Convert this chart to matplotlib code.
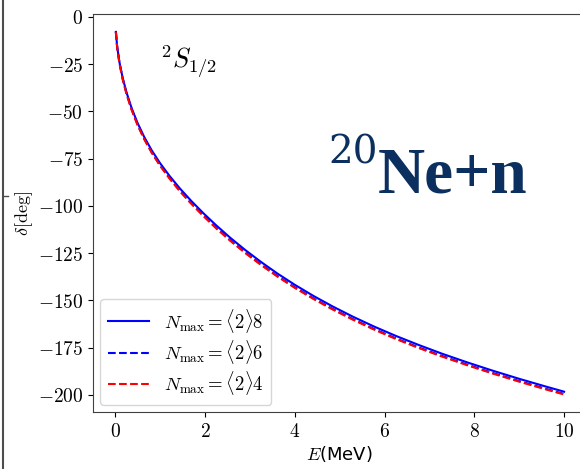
import numpy as np
import matplotlib
matplotlib.use("Agg")
import matplotlib.pyplot as plt
from matplotlib.ticker import FuncFormatter
from matplotlib.lines import Line2D

plt.rcParams['mathtext.fontset'] = 'cm'

# energies (MeV) and phase shifts (deg)
energy = [0.01, 0.04, 0.09, 0.16, 0.25, 0.36, 0.49, 0.64, 0.81, 1.0, 1.21,
          1.44, 1.69, 1.96, 2.25, 2.56, 2.89, 3.24, 3.61, 4.0, 4.41, 4.84,
          5.29, 5.76, 6.25, 6.76, 7.29, 7.84, 8.41, 9.0, 9.61, 10.0]
delta_n8 = [-8.0, -16.0, -24.0, -32.1, -40.2, -48.2, -56.0, -63.5, -70.7, -77.6,
            -84.3, -90.9, -97.4, -103.9, -110.4, -116.9, -123.3, -129.6, -135.8,
            -141.8, -147.6, -153.2, -158.6, -163.8, -168.8, -173.6, -178.3,
            -182.8, -187.2, -191.5, -195.7, -198.3]
delta_n6 = [-8.0, -16.2, -24.4, -32.6, -40.8, -48.9, -56.8, -64.4, -71.7, -78.7,
            -85.4, -92.1, -98.6, -105.1, -111.7, -118.2, -124.6, -130.9, -137.1,
            -143.1, -148.9, -154.5, -159.9, -165.1, -170.1, -174.9, -179.5,
            -184.0, -188.4, -192.7, -196.9, -199.5]
delta_n4 = [-8.1, -16.4, -24.7, -32.9, -41.1, -49.2, -57.1, -64.7, -72.0, -79.0,
            -85.7, -92.4, -98.9, -105.4, -112.0, -118.5, -124.9, -131.2, -137.4,
            -143.4, -149.2, -154.8, -160.2, -165.4, -170.4, -175.2, -179.8,
            -184.3, -188.7, -193.0, -197.2, -199.8]

fig = plt.figure(figsize=(5.8, 4.69), dpi=100)
ax = fig.add_axes([0.1603, 0.1209, 0.851, 0.849])

ax.plot(energy, delta_n8, color='blue', lw=1.5, label=r'$N_\mathrm{max}=\langle 2\rangle 8$')
ax.plot(energy, delta_n6, color='blue', lw=1.5, ls='--', label=r'$N_\mathrm{max}=\langle 2\rangle 6$')
ax.plot(energy, delta_n4, color='red', lw=1.5, ls='--', label=r'$N_\mathrm{max}=\langle 2\rangle 4$')

ax.set_xlim(-0.5, 10.5)
ax.set_ylim(-209.2, 1.4)
ax.set_xticks([0, 2, 4, 6, 8, 10])
ax.set_yticks([0, -25, -50, -75, -100, -125, -150, -175, -200])
fmt = FuncFormatter(lambda v, p: r'$%d$' % v)
ax.xaxis.set_major_formatter(fmt)
ax.yaxis.set_major_formatter(fmt)
ax.tick_params(labelsize=14)
for s in ax.spines.values():
    s.set_color('0.25')

ax.set_xlabel(r'$E$(MeV)', fontsize=13, labelpad=2)
ax.set_ylabel(r'$\delta[\mathrm{deg}]$', fontsize=13, labelpad=2)

ax.legend(loc='lower left', fontsize=13.5, handlelength=2.2, borderaxespad=0.4,
          labelspacing=0.18)

ax.text(0.136, 0.864, r'$^2S_{1/2}$', transform=ax.transAxes, fontsize=19,
        va='baseline')
ax.text(328, 469 - 163, '20', transform=None, fontsize=28, color='#0b2f5e',
        family='DejaVu Serif', va='baseline')
ax.text(378, 469 - 192, 'Ne+n', transform=None, fontsize=47, color='#0b2f5e',
        family='Liberation Serif', fontweight='bold', va='baseline')

# edge of the neighbouring panel
fig.add_artist(Line2D([3/580, 3/580], [0, 1], color='0.3', lw=1.5, transform=fig.transFigure))
fig.add_artist(Line2D([3/580, 8/580], [1 - 196/469, 1 - 196/469], color='0.3', lw=1, transform=fig.transFigure))

fig.savefig('out.png', dpi=100)
